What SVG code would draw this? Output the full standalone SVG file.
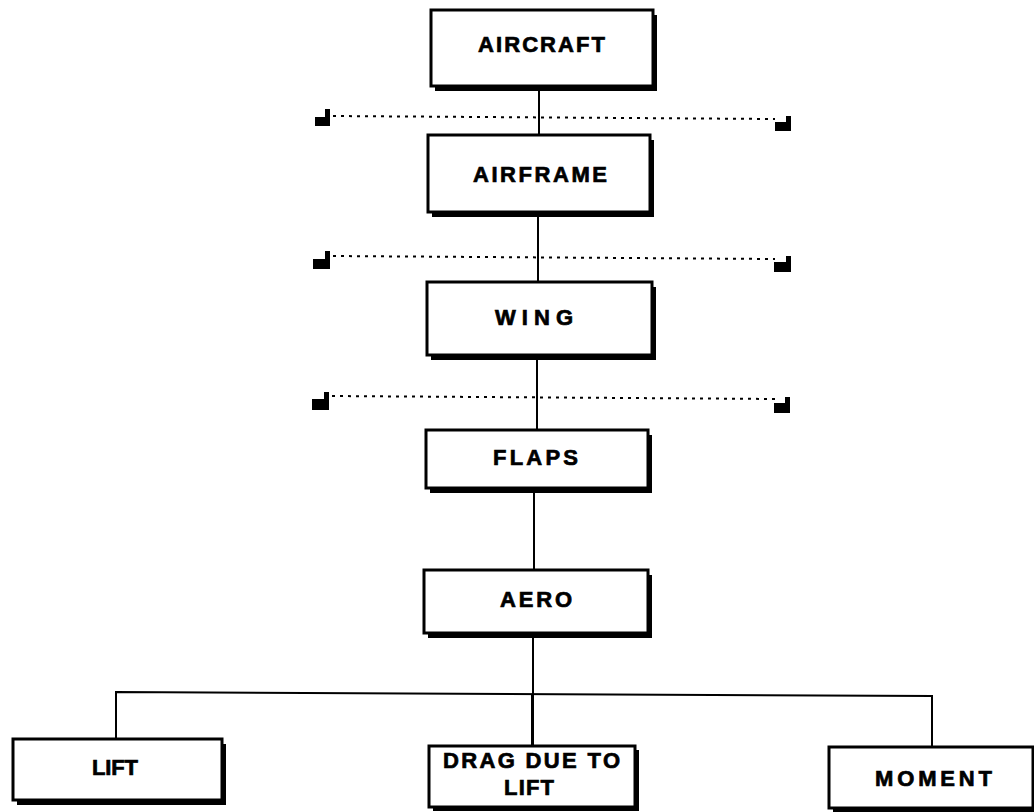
<svg xmlns="http://www.w3.org/2000/svg" width="1034" height="812" viewBox="0 0 1034 812">
<style>
.sh{fill:#000}
.bx{fill:#fff;stroke:#000;stroke-width:3}
.t{font-family:"Liberation Sans",Arial,sans-serif;font-weight:bold;font-size:22px;fill:#000;stroke:#000;stroke-width:0.7}
.c{stroke:#000;stroke-width:2;fill:none}
.d{stroke:#000;stroke-width:2;stroke-dasharray:3 5;fill:none}
.br{fill:#000}
</style>
<rect width="1034" height="812" fill="#fff"/>
<g id="connectors">
<line class="c" x1="539" y1="88" x2="539" y2="136"/>
<line class="c" x1="538" y1="214" x2="538" y2="283"/>
<line class="c" x1="537" y1="357" x2="537" y2="431"/>
<line class="c" x1="534" y1="490" x2="534" y2="571"/>
<line class="c" x1="533" y1="635" x2="533" y2="747"/>
<polyline class="c" points="116,740 116,692 932,696 932,748"/>
<line class="c" x1="532" y1="694" x2="532" y2="747"/>
<g id="sep1">
<line class="d" x1="333" y1="116" x2="775" y2="119"/>
<path class="br" d="M315 117 H325 V109 H330 V126 H315 Z"/>
<path class="br" d="M775 122 H786 V116 H791 V131 H775 Z"/>
</g>
<g id="sep2">
<line class="d" x1="333" y1="256" x2="775" y2="259"/>
<path class="br" d="M313 259 H325 V251 H330 V269 H313 Z"/>
<path class="br" d="M774 262 H786 V256 H791 V272 H774 Z"/>
</g>
<g id="sep3">
<line class="d" x1="332" y1="396" x2="775" y2="399"/>
<path class="br" d="M312 399 H324 V392 H329 V410 H312 Z"/>
<path class="br" d="M774 403 H785 V397 H790 V413 H774 Z"/>
</g>
</g>
<g id="aircraft">
<rect class="sh" x="435" y="15" width="222" height="76"/>
<rect class="bx" x="431" y="10" width="222" height="76"/>
<text class="t" x="478" y="52" textLength="127" lengthAdjust="spacing">AIRCRAFT</text>
</g>
<g id="airframe">
<rect class="sh" x="432" y="140" width="222" height="77"/>
<rect class="bx" x="428" y="135" width="222" height="77"/>
<text class="t" x="473" y="182" textLength="134" lengthAdjust="spacing">AIRFRAME</text>
</g>
<g id="wing">
<rect class="sh" x="431" y="287" width="225" height="73"/>
<rect class="bx" x="427" y="282" width="225" height="73"/>
<text class="t" x="495" y="325" textLength="78" lengthAdjust="spacing">WING</text>
</g>
<g id="flaps">
<rect class="sh" x="430" y="435" width="222" height="58"/>
<rect class="bx" x="426" y="430" width="222" height="58"/>
<text class="t" x="493" y="465" textLength="85" lengthAdjust="spacing">FLAPS</text>
</g>
<g id="aero">
<rect class="sh" x="428" y="575" width="224" height="63"/>
<rect class="bx" x="424" y="570" width="224" height="63"/>
<text class="t" x="500" y="607" textLength="72" lengthAdjust="spacing">AERO</text>
</g>
<g id="lift">
<rect class="sh" x="17" y="744" width="209" height="61"/>
<rect class="bx" x="13" y="739" width="209" height="61"/>
<text class="t" x="92" y="775" textLength="46" lengthAdjust="spacing">LIFT</text>
</g>
<g id="drag">
<rect class="sh" x="433" y="750" width="206" height="61"/>
<rect class="bx" x="429" y="746" width="206" height="61"/>
<text class="t" x="443" y="768" textLength="177" lengthAdjust="spacing">DRAG DUE TO</text>
<text class="t" x="504" y="795" textLength="50" lengthAdjust="spacing">LIFT</text>
</g>
<g id="moment">
<rect class="sh" x="833" y="751" width="204" height="61"/>
<rect class="bx" x="829" y="747" width="204" height="61"/>
<text class="t" x="875" y="786" textLength="117" lengthAdjust="spacing">MOMENT</text>
</g>
</svg>
